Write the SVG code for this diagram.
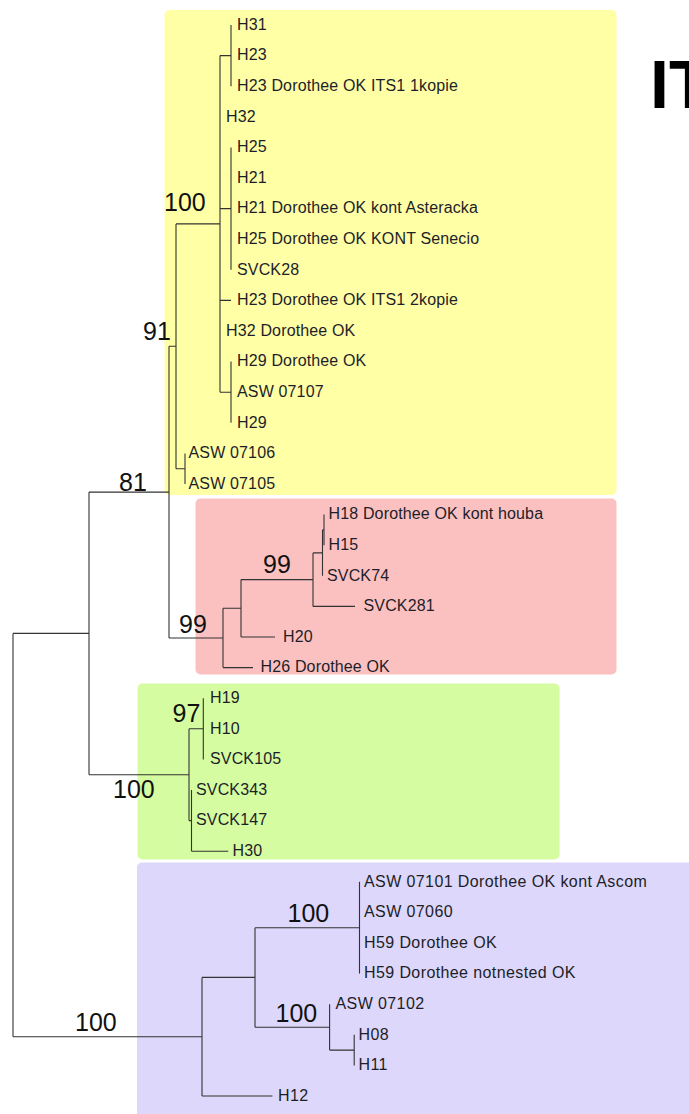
<svg xmlns="http://www.w3.org/2000/svg" width="689" height="1114" viewBox="0 0 689 1114">
<style>
.leaf{font-family:"Liberation Sans",Arial,sans-serif;font-size:16px;fill:#1e1e28;letter-spacing:0.15px}
.wide{letter-spacing:0.4px}
.sup{font-family:"Liberation Sans",Arial,sans-serif;font-size:25px;fill:#111}
.title{font-family:"Liberation Sans",Arial,sans-serif;font-size:68px;font-weight:bold;fill:#000}
.br{fill:none;stroke:#333;stroke-width:1.1}
</style>
<rect width="689" height="1114" fill="#fff"/>
<g id="clade-boxes">
<rect id="box-yellow" x="164.5" y="10" width="452" height="485" rx="5" fill="#ffffa6"/>
<rect id="box-red" x="195.5" y="498.5" width="421" height="176" rx="5" fill="#fbc1c1"/>
<rect id="box-green" x="137.5" y="683.5" width="422" height="176" rx="5" fill="#d5fca1"/>
<rect id="box-purple" x="137" y="862.5" width="570" height="270" rx="5" fill="#dcd7fb"/>
</g>
<text id="title" class="title" x="650" y="108">IT</text>
<g id="connectors" class="br">
<path d="M13,633.4V1036.7M13,633.4H89M13,1036.7H202"/>
<path d="M89,492.1V774.7M89,492.1H169M89,774.7H189"/>
<path d="M169,346.3V638M169,346.3H176M169,638H223"/>
<path d="M176,223.9V468.7M176,223.9H220M176,468.7H185"/>
<path d="M220,55.6V392.2M220,55.6H231M220,208.6H231M220,300.4H231M220,392.2H231"/>
<path d="M231,25V86.2M231,147.4V269.8M231,361.6V422.8"/>
<path d="M185,453.4V484"/>
<path d="M223,608.3V667.6M223,608.3H241M223,667.6H253"/>
<path d="M241,579.6V637M241,579.6H313M241,637H275"/>
<path d="M313,552.9V606.4M313,552.9H322.5M313,606.4H355"/>
<path d="M322.5,529.9V575.8M322.5,529.9H324M324,514.6V545.2"/>
<path d="M189,728.8V820.6M189,728.8H203.3M189,820.6H191.5"/>
<path d="M203.3,698.2V759.4"/>
<path d="M191.5,790V851.2M191.5,851.2H228.3"/>
<path d="M202,977.4V1096M202,977.4H255M202,1096H272.4"/>
<path d="M255,927.7V1027.2M255,927.7H359.5M255,1027.2H329.6"/>
<path d="M359.5,881.8V973.6"/>
<path d="M329.6,1004.2V1050.1M329.6,1050.1H354.2M354.2,1034.8V1065.4"/>
</g>
<g id="support-labels">
<text id="s-100a" class="sup" x="164" y="211">100</text>
<text id="s-91" class="sup" x="143" y="340">91</text>
<text id="s-81" class="sup" x="119" y="490.5">81</text>
<text id="s-99a" class="sup" x="179" y="633">99</text>
<text id="s-99b" class="sup" x="263" y="573">99</text>
<text id="s-97" class="sup" x="172.5" y="721.5">97</text>
<text id="s-100b" class="sup" x="113" y="798">100</text>
<text id="s-100c" class="sup" x="287.5" y="922">100</text>
<text id="s-100d" class="sup" x="275.5" y="1022">100</text>
<text id="s-100e" class="sup" x="75" y="1030.5">100</text>
</g>
<g id="leaves">
<g id="n1"><text class="leaf" x="237" y="29.8">H31</text></g>
<g id="n2"><text class="leaf" x="237" y="60.4">H23</text></g>
<g id="n3"><text class="leaf" x="237" y="91">H23 Dorothee OK ITS1 1kopie</text></g>
<g id="n4"><text class="leaf" x="226" y="121.6">H32</text></g>
<g id="n5"><text class="leaf" x="237" y="152.2">H25</text></g>
<g id="n6"><text class="leaf" x="237" y="182.8">H21</text></g>
<g id="n7"><text class="leaf" x="237" y="213.4">H21 Dorothee OK kont Asteracka</text></g>
<g id="n8"><text class="leaf" x="237" y="244">H25 Dorothee OK KONT Senecio</text></g>
<g id="n9"><text class="leaf" x="237" y="274.6">SVCK28</text></g>
<g id="n10"><text class="leaf" x="237" y="305.2">H23 Dorothee OK ITS1 2kopie</text></g>
<g id="n11"><text class="leaf" x="226" y="335.8">H32 Dorothee OK</text></g>
<g id="n12"><text class="leaf" x="237" y="366.4">H29 Dorothee OK</text></g>
<g id="n13"><text class="leaf" x="237" y="397">ASW 07107</text></g>
<g id="n14"><text class="leaf" x="237" y="427.6">H29</text></g>
<g id="n15"><text class="leaf" x="188.5" y="458.2">ASW 07106</text></g>
<g id="n16"><text class="leaf" x="188.5" y="488.8">ASW 07105</text></g>
<g id="n17"><text class="leaf" x="328.5" y="519.4">H18 Dorothee OK kont houba</text></g>
<g id="n18"><text class="leaf" x="328.5" y="550">H15</text></g>
<g id="n19"><text class="leaf" x="327" y="580.6">SVCK74</text></g>
<g id="n20"><text class="leaf" x="363.5" y="611.2">SVCK281</text></g>
<g id="n21"><text class="leaf" x="283" y="641.8">H20</text></g>
<g id="n22"><text class="leaf" x="260.5" y="672.4">H26 Dorothee OK</text></g>
<g id="n23"><text class="leaf" x="210" y="703">H19</text></g>
<g id="n24"><text class="leaf" x="210" y="733.6">H10</text></g>
<g id="n25"><text class="leaf" x="210" y="764.2">SVCK105</text></g>
<g id="n26"><text class="leaf" x="196" y="794.8">SVCK343</text></g>
<g id="n27"><text class="leaf" x="196" y="825.4">SVCK147</text></g>
<g id="n28"><text class="leaf" x="232.5" y="856">H30</text></g>
<g id="n29"><text class="leaf wide" x="364" y="886.6">ASW 07101 Dorothee OK kont Ascom</text></g>
<g id="n30"><text class="leaf wide" x="364" y="917.2">ASW 07060</text></g>
<g id="n31"><text class="leaf wide" x="364" y="947.8">H59 Dorothee OK</text></g>
<g id="n32"><text class="leaf wide" x="364" y="978.4">H59 Dorothee notnested OK</text></g>
<g id="n33"><text class="leaf wide" x="335.5" y="1009">ASW 07102</text></g>
<g id="n34"><text class="leaf wide" x="358.5" y="1039.6">H08</text></g>
<g id="n35"><text class="leaf wide" x="358.5" y="1070.2">H11</text></g>
<g id="n36"><text class="leaf wide" x="278" y="1100.8">H12</text></g>
</g>
</svg>
